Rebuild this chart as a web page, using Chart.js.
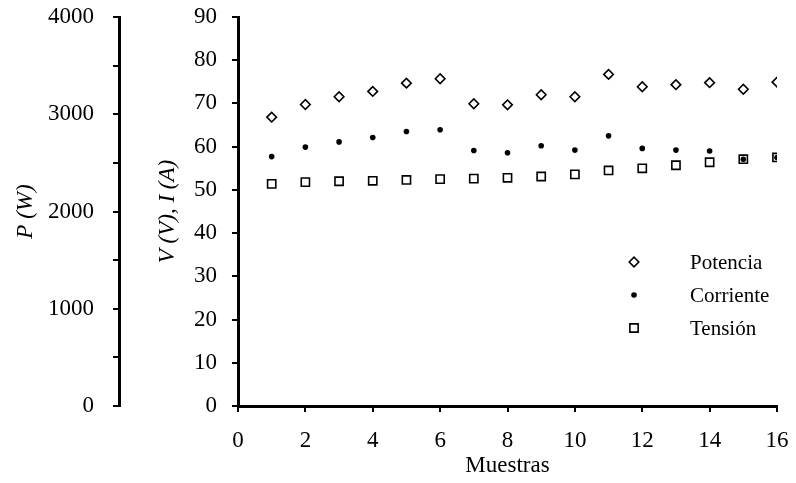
<!DOCTYPE html>
<html>
<head>
<meta charset="utf-8">
<script src="https://cdn.jsdelivr.net/npm/chart.js@4.4.1/dist/chart.umd.min.js"></script>
<style>
  html, body { margin: 0; padding: 0; background: #fff; }
  #wrap { width: 796px; height: 483px; position: relative; }
</style>
</head>
<body>
<div id="wrap"><canvas id="chart"></canvas></div>
<script>
// Datos
const muestras = [1, 2, 3, 4, 5, 6, 7, 8, 9, 10, 11, 12, 13, 14, 15, 16];
const potencia = [2970, 3100, 3180, 3235, 3320, 3365, 3108, 3097, 3200, 3180, 3410, 3283, 3304, 3325, 3257, 3330];
const corriente = [57.7, 59.9, 61.1, 62.1, 63.5, 63.9, 59.1, 58.6, 60.2, 59.2, 62.5, 59.6, 59.2, 59.0, 57.1, 57.5];
const tension = [51.4, 51.8, 52.0, 52.1, 52.3, 52.5, 52.6, 52.8, 53.1, 53.6, 54.5, 55.0, 55.7, 56.4, 57.1, 57.5];

const serif = 'Liberation Serif';
const fontSize = 23;
const legendSize = 21;

function toPoints(xs, ys) {
    return xs.map((x, i) => ({ x: x, y: ys[i] }));
}

// Leyenda dentro del área del gráfico
const innerLegend = {
    id: 'innerLegend',
    afterDatasetsDraw(chart) {
        const ctx = chart.ctx;
        const x0 = 634, y0 = 262, gap = 33;
        ctx.save();
        chart.data.datasets.forEach((ds, i) => {
            const y = y0 + i * gap;
            ctx.strokeStyle = ds.borderColor;
            ctx.fillStyle = ds.backgroundColor;
            ctx.lineWidth = ds.borderWidth;
            Chart.helpers.drawPoint(ctx, { pointStyle: ds.pointStyle, radius: ds.pointRadius, borderWidth: ds.borderWidth }, x0, y);
            ctx.fillStyle = '#000';
            ctx.font = legendSize + 'px "' + serif + '"';
            ctx.textBaseline = 'middle';
            ctx.textAlign = 'left';
            ctx.fillText(ds.label, 690, y + 1);
        });
        ctx.restore();
    }
};

const axisGrid = {
    display: true,
    drawOnChartArea: false,
    drawTicks: true,
    tickLength: 6,
    color: '#000',
    lineWidth: 2
};

// Ancho fijo para los ejes verticales, sin margen extra por las etiquetas
function fixVertical(scale) {
    scale.width = 119;
    scale.paddingTop = 0;
    scale.paddingBottom = 0;
}

const chartConfig = {
    type: 'scatter',
    data: {
        datasets: [
            {
                label: 'Potencia',
                data: toPoints(muestras, potencia),
                yAxisID: 'p',
                pointStyle: 'rectRot',
                pointRadius: 4.8,
                borderWidth: 1.6,
                borderColor: '#000',
                backgroundColor: '#fff'
            },
            {
                label: 'Corriente',
                data: toPoints(muestras, corriente),
                yAxisID: 'y',
                pointStyle: 'circle',
                pointRadius: 2.8,
                borderWidth: 0,
                borderColor: '#000',
                backgroundColor: '#000'
            },
            {
                label: 'Tensión',
                data: toPoints(muestras, tension),
                yAxisID: 'y',
                pointStyle: 'rect',
                pointRadius: 5.8,
                borderWidth: 1.6,
                borderColor: '#000',
                backgroundColor: 'rgba(255,255,255,0)'
            }
        ]
    },
    options: {
        responsive: true,
        maintainAspectRatio: false,
        animation: false,
        layout: {
            padding: { top: 17, right: 19, left: 0, bottom: 0 }
        },
        plugins: {
            legend: { display: false },
            tooltip: { enabled: false }
        },
        scales: {
            x: {
                type: 'linear',
                position: 'bottom',
                min: 0,
                max: 16,
                ticks: {
                    stepSize: 2,
                    color: '#000',
                    padding: 15,
                    maxRotation: 0,
                    font: { family: serif, size: fontSize }
                },
                border: { color: '#000', width: 3 },
                grid: axisGrid,
                title: {
                    display: true,
                    text: 'Muestras',
                    color: '#000',
                    padding: { top: 0, bottom: 3 },
                    font: { family: serif, size: fontSize }
                },
                afterFit: function (scale) {
                    scale.height = 77;
                    scale.paddingLeft = 0;
                    scale.paddingRight = 0;
                }
            },
            y: {
                position: 'left',
                weight: 0,
                min: 0,
                max: 90,
                ticks: {
                    stepSize: 10,
                    color: '#000',
                    padding: 15,
                    font: { family: serif, size: fontSize }
                },
                border: { color: '#000', width: 3 },
                grid: axisGrid,
                title: {
                    display: true,
                    text: 'V (V), I (A)',
                    color: '#000',
                    padding: { top: 35, bottom: 0 },
                    font: { family: serif, size: fontSize, style: 'italic' }
                },
                afterFit: fixVertical
            },
            p: {
                position: 'left',
                weight: 1,
                min: 0,
                max: 4000,
                ticks: {
                    stepSize: 500,
                    color: '#000',
                    padding: 19,
                    font: { family: serif, size: fontSize },
                    callback: function (v) { return v % 1000 === 0 ? v : ''; }
                },
                border: { color: '#000', width: 3 },
                grid: axisGrid,
                title: {
                    display: true,
                    text: 'P (W)',
                    color: '#000',
                    padding: { top: 12, bottom: 0 },
                    font: { family: serif, size: fontSize, style: 'italic' }
                },
                afterFit: fixVertical
            }
        }
    },
    plugins: [innerLegend]
};

new Chart(document.getElementById('chart').getContext('2d'), chartConfig);
</script>
</body>
</html>
